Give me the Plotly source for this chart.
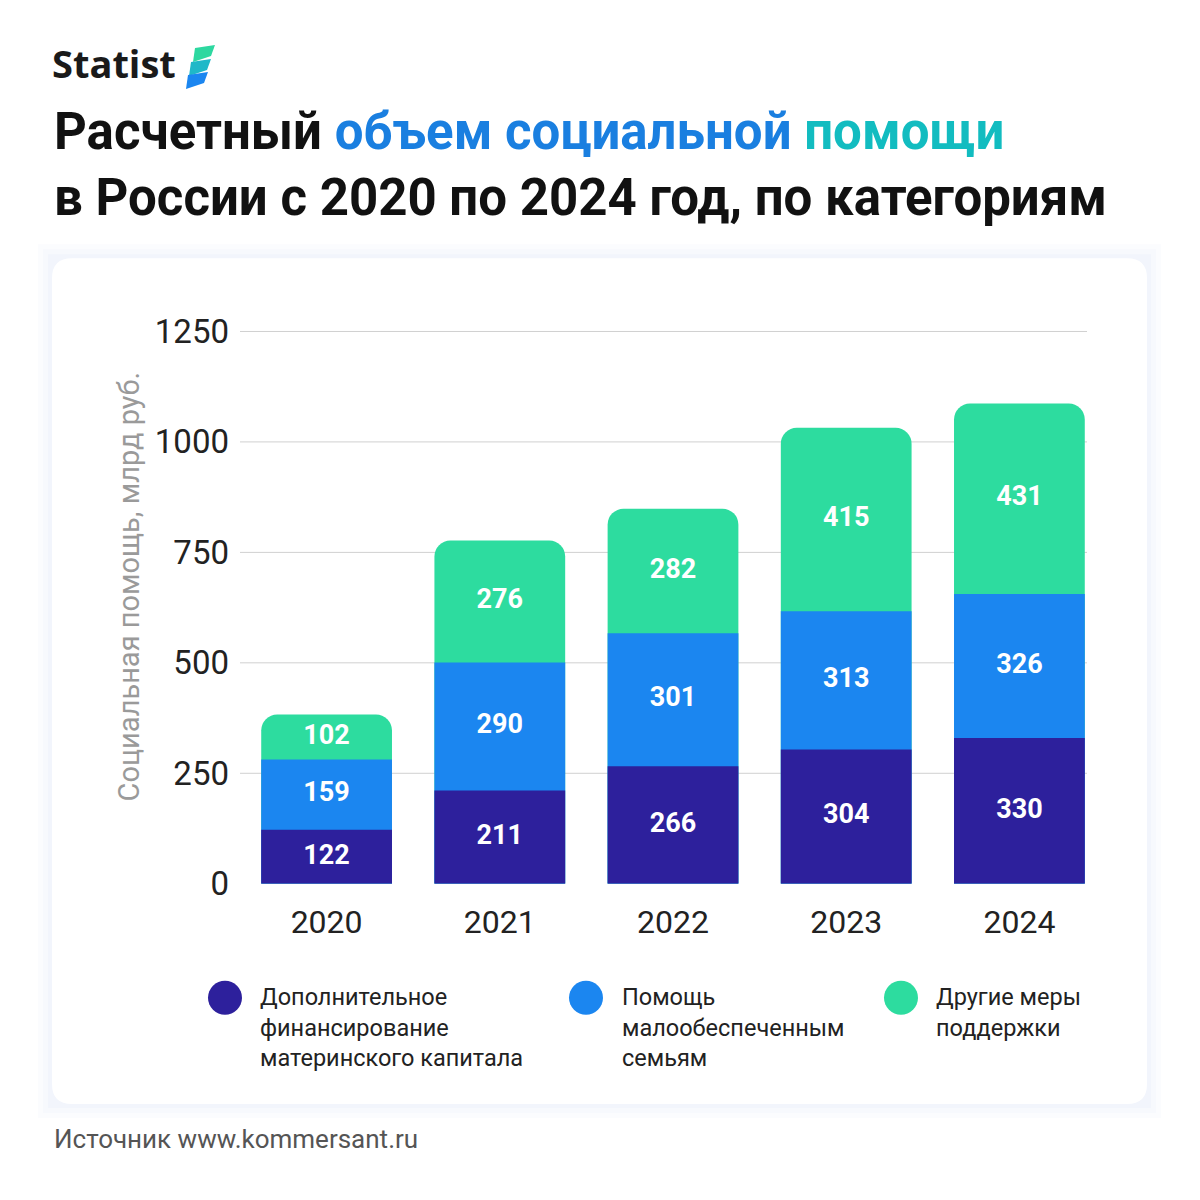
import plotly.graph_objects as go

# data
years = ['2020', '2021', '2022', '2023', '2024']
maternity = [122, 211, 266, 304, 330]
low_income = [159, 290, 301, 313, 326]
other = [102, 276, 282, 415, 431]
y_ticks = [0, 250, 500, 750, 1000, 1250]

names = ['Дополнительное<br>финансирование<br>материнского капитала',
         'Помощь<br>малообеспеченным<br>семьям',
         'Другие меры<br>поддержки']
colors = ['#2d209c', '#1b86f0', '#2ddc9f']

lvl1 = maternity
lvl2 = [a + b for a, b in zip(maternity, low_income)]
lvl3 = [a + b for a, b in zip(lvl2, other)]


# pixel -> paper helpers (the page renders with a small offset)
def px(x):
    return (x - 8) / 1200


def py(y):
    return 1 - (y - 27) / 1162


fig = go.Figure()
# overlay cumulative bars, tallest first so each segment's rounded top shows
for tops, c in [(lvl3, colors[2]), (lvl2, colors[1]), (lvl1, colors[0])]:
    fig.add_trace(go.Bar(x=years, y=tops, marker=dict(color=c, cornerradius=16, line_width=0),
                         width=0.755, hoverinfo='skip'))

# value labels at segment middles
for bases, vals in [([0] * 5, maternity), (lvl1, low_income), (lvl2, other)]:
    fig.add_trace(go.Scatter(x=years, y=[b + v / 2 for b, v in zip(bases, vals)],
                             mode='text', text=['<b>%d</b>' % v for v in vals],
                             textfont=dict(color='white', size=27, family='Roboto'),
                             hoverinfo='skip'))

# card background with soft shadow
for i, op in enumerate([0.03, 0.03, 0.04]):
    d = 14 - i * 5
    fig.add_shape(type='rect', xref='paper', yref='paper', layer='below',
                  x0=px(52 - d), x1=px(1147 + d), y0=py(1105 + d), y1=py(260 - d),
                  fillcolor=f'rgba(120,150,220,{op})', line_width=0)
L, R, T, B, r = px(52), px(1147), py(260), py(1105), 20
rx, ry = r / 1200, r / 1162
fig.add_shape(type='path', xref='paper', yref='paper', layer='below', line_width=0, fillcolor='white',
              path=f'M {L + rx},{T} L {R - rx},{T} Q {R},{T} {R},{T - ry} L {R},{B + ry} '
                   f'Q {R},{B} {R - rx},{B} L {L + rx},{B} Q {L},{B} {L},{B + ry} '
                   f'L {L},{T - ry} Q {L},{T} {L + rx},{T} Z')

# gridlines stopping at the last bar
for t in y_ticks[1:]:
    fig.add_shape(type='line', xref='paper', yref='y', layer='below', x0=px(240), x1=px(1087),
                  y0=t, y1=t, line=dict(color='#d0d0d0', width=1))

# legend
for cx, tx, nm, c in zip([225, 586, 901], [258, 620, 934], names, colors):
    fig.add_shape(type='circle', xref='paper', yref='paper', fillcolor=c, line_width=0,
                  x0=px(cx - 17), x1=px(cx + 17), y0=py(1016), y1=py(982))
    fig.add_annotation(xref='paper', yref='paper', x=px(tx), y=py(982), text=nm,
                       showarrow=False, xanchor='left', yanchor='top', align='left',
                       font=dict(size=23.5, color='#222', family='Roboto'))

# logo
fig.add_annotation(xref='paper', yref='paper', x=px(50), y=py(65), text='<b>Statist</b>',
                   showarrow=False, xanchor='left', yanchor='middle',
                   font=dict(size=38, color='#1a1a1a', family='Open Sans'))
for (x0, y0, c) in [(195, 50, '#2dd8a0'), (191, 64, '#1fb8c8'), (188, 77, '#1b86f0')]:
    fig.add_shape(type='path', xref='paper', yref='paper', line_width=0, fillcolor=c,
                  path=f'M {px(x0)},{py(y0)} L {px(x0 + 20)},{py(y0 - 3)} L {px(x0 + 16)},{py(y0 + 8)} '
                       f'L {px(x0 - 2)},{py(y0 + 14)} Z')

fig.add_annotation(xref='paper', yref='paper', x=px(52), y=py(166),
                   text='<b>Расчетный <span style="color:#1a7fe0">объем социальной</span> '
                        '<span style="color:#12bcc0">помощи</span><br>в России с 2020 по 2024 год, по категориям</b>',
                   showarrow=False, xanchor='left', yanchor='middle', align='left',
                   font=dict(size=51, color='#111', family='Roboto'))
fig.add_annotation(xref='paper', yref='paper', x=px(52), y=py(1140),
                   text='Источник www.kommersant.ru', showarrow=False, xanchor='left', yanchor='middle',
                   font=dict(size=26, color='#555', family='Roboto'))
fig.add_annotation(xref='paper', yref='paper', x=px(110), y=py(588),
                   text='Социальная помощь, млрд руб.', textangle=-90, showarrow=False,
                   font=dict(size=29, color='#9a9a9a', family='Roboto'))

fig.update_layout(
    width=1200, height=1200, margin=dict(l=0, r=0, t=0, b=0),
    paper_bgcolor='white', plot_bgcolor='rgba(0,0,0,0)', showlegend=False, barmode='overlay',
    font=dict(family='Roboto', color='#222'),
    xaxis=dict(domain=[px(240), px(1106)], tickfont=dict(size=32), ticks='', showline=False,
               ticklabelstandoff=16),
    yaxis=dict(domain=[py(885), py(331)], range=[0, 1255], tickvals=y_ticks, showgrid=False,
               tickfont=dict(size=33), zeroline=False, ticklabelstandoff=10),
)
fig.write_html('out.html')
